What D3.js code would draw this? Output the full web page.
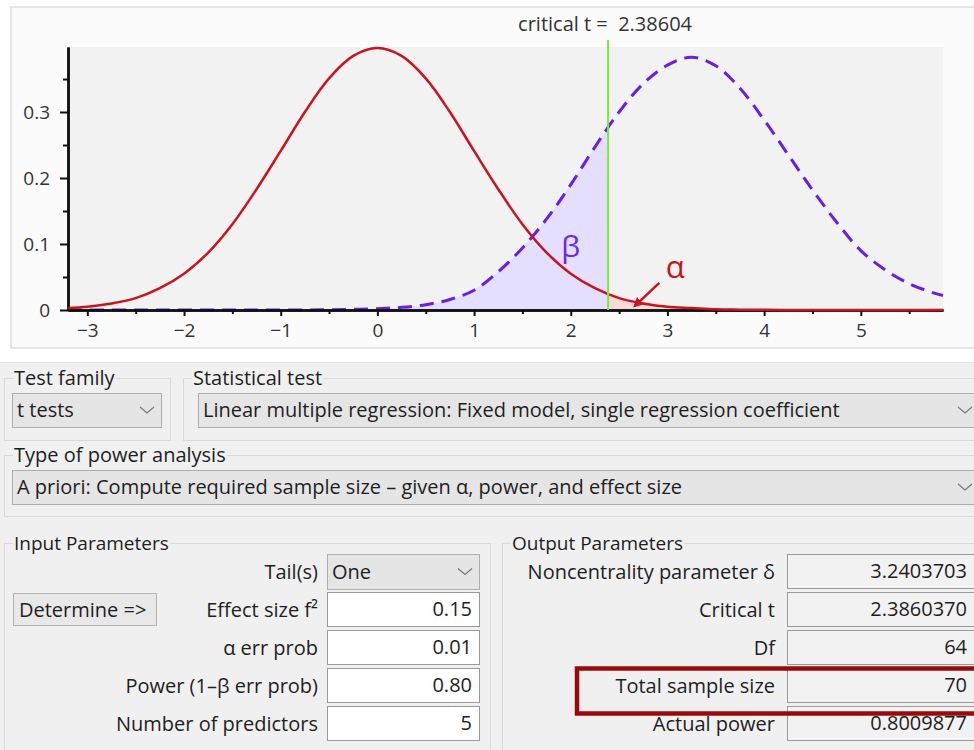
<!DOCTYPE html>
<html>
<head>
<meta charset="utf-8">
<script src="https://cdn.jsdelivr.net/npm/d3@7"></script>
<style>
  body { margin: 0; background: #fff; }
  text { font-family: "Open Sans", "Noto Sans", sans-serif; }
</style>
</head>
<body>
<script>
var tGrid = [-3.2, -3, -2.75, -2.5, -2.25, -2, -1.75, -1.5, -1.25, -1, -0.75, -0.5, -0.25,
    0, 0.25, 0.5, 0.75, 1, 1.25, 1.5, 1.75, 2, 2.25, 2.5, 2.75, 3, 3.25, 3.5, 3.75,
    4, 4.25, 4.5, 4.75, 5, 5.25, 5.5, 5.75, 5.85];

// H0: central t (red, solid)
var h0Density = [0.003, 0.005, 0.010, 0.018, 0.033, 0.055, 0.087, 0.130, 0.183, 0.241, 0.300, 0.351, 0.385,
    0.397, 0.385, 0.351, 0.300, 0.241, 0.183, 0.130, 0.087, 0.055, 0.033, 0.018, 0.010, 0.005, 0.003, 0.001, 0.0005,
    0.0002, 0.0001, 0, 0, 0, 0, 0, 0, 0];

// H1: noncentral t (blue, dashed)
var h1Density = [0, 0, 0, 0, 0, 0, 0, 0, 0, 0, 0, 0.0004, 0.001,
    0.002, 0.004, 0.008, 0.016, 0.030, 0.058, 0.094, 0.138, 0.190, 0.247, 0.300, 0.343, 0.371, 0.383, 0.370, 0.336,
    0.288, 0.235, 0.182, 0.133, 0.090, 0.061, 0.040, 0.026, 0.022];

var criticalT = 2.38604;
var xTicks = [-3, -2, -1, 0, 1, 2, 3, 4, 5];
var xMinorTicks = [-2.5, -1.5, -0.5, 0.5, 1.5, 2.5, 3.5, 4.5, 5.5];
var yTicks = [0, 0.1, 0.2, 0.3];
var yMinorTicks = [0.05, 0.15, 0.25, 0.35];

var testFamily = "t tests";
var statisticalTest = "Linear multiple regression: Fixed model, single regression coefficient";
var analysisType = "A priori: Compute required sample size \u2013 given \u03b1, power, and effect size";

var inputLabels = ["Tail(s)", "Effect size f\u00b2", "\u03b1 err prob", "Power (1\u2013\u03b2 err prob)", "Number of predictors"];
var inputValues = ["One", "0.15", "0.01", "0.80", "5"];
var outputLabels = ["Noncentrality parameter \u03b4", "Critical t", "Df", "Total sample size", "Actual power"];
var outputValues = ["3.2403703", "2.3860370", "64", "70", "0.8009877"];

var width = 974,
    height = 750;
var uiFont = "20px";
var ink = "#1e1e1e";

var svg = d3.select("body").append("svg")
    .attr("width", width)
    .attr("height", height);

// ---------- chart panel ----------
svg.append("rect").attr("x", 11).attr("y", 7).attr("width", 980).attr("height", 341)
    .attr("fill", "#fbfbfb").attr("stroke", "#cdcdcd");

var x = d3.scaleLinear().domain([-3.2, 5.85]).range([68, 943]);
var y = d3.scaleLinear().domain([0, 0.3985]).range([310, 47]);

svg.append("rect")
    .attr("x", x(-3.2)).attr("y", y(0.3985))
    .attr("width", x(5.85) - x(-3.2)).attr("height", y(0) - y(0.3985))
    .attr("fill", "#f2f2f2");

var pts0 = tGrid.map(function(t, i) { return [t, h0Density[i]]; });
var pts1 = tGrid.map(function(t, i) { return [t, h1Density[i]]; });

var line = d3.line()
    .x(function(d) { return x(d[0]); })
    .y(function(d) { return y(d[1]); })
    .curve(d3.curveCatmullRom);

var area = d3.area()
    .x(function(d) { return x(d[0]); })
    .y0(y(0))
    .y1(function(d) { return y(d[1]); })
    .curve(d3.curveCatmullRom);

var defs = svg.append("defs");
defs.append("clipPath").attr("id", "leftOfCrit")
  .append("rect").attr("x", x(-3.2)).attr("y", 0).attr("width", x(criticalT) - x(-3.2)).attr("height", y(0));
defs.append("clipPath").attr("id", "rightOfCrit")
  .append("rect").attr("x", x(criticalT)).attr("y", 0).attr("width", x(5.85) - x(criticalT)).attr("height", y(0));
defs.append("marker").attr("id", "arrowRed")
    .attr("viewBox", "0 0 10 10").attr("refX", 8).attr("refY", 5)
    .attr("markerWidth", 4).attr("markerHeight", 4).attr("orient", "auto")
  .append("path").attr("d", "M0,0L10,5L0,10z").attr("fill", "#c8141e");

// beta region (under H1, left of critical t) and alpha region
svg.append("path").datum(pts1).attr("d", area)
    .attr("clip-path", "url(#leftOfCrit)").attr("fill", "#e4deff");
svg.append("path").datum(pts0).attr("d", area)
    .attr("clip-path", "url(#rightOfCrit)").attr("fill", "#f6dada");

svg.append("path").datum(pts1).attr("d", line)
    .attr("fill", "none").attr("stroke", "#6420e6")
    .attr("stroke-width", 3).attr("stroke-dasharray", "14 8");

// axes
var yAxis = svg.append("g").attr("transform", "translate(" + x(-3.2) + ",0)")
    .call(d3.axisLeft(y).tickValues(yTicks).tickSize(8).tickSizeOuter(0).tickPadding(10)
        .tickFormat(function(d) { return d === 0 ? "0" : d3.format(".1f")(d); }));
var yAxisMinor = svg.append("g").attr("transform", "translate(" + x(-3.2) + ",0)")
    .call(d3.axisLeft(y).tickValues(yMinorTicks).tickSize(5).tickSizeOuter(0).tickFormat(""));
var xAxis = svg.append("g").attr("transform", "translate(0," + y(0) + ")")
    .call(d3.axisBottom(x).tickValues(xTicks).tickSize(6).tickSizeOuter(0).tickPadding(8));
var xAxisMinor = svg.append("g").attr("transform", "translate(0," + y(0) + ")")
    .call(d3.axisBottom(x).tickValues(xMinorTicks).tickSize(4).tickSizeOuter(0).tickFormat(""));

[yAxis, yAxisMinor, xAxis, xAxisMinor].forEach(function(g) {
    g.select(".domain").attr("stroke", "#111").attr("stroke-width", 2.5);
    g.selectAll(".tick line").attr("stroke", "#111").attr("stroke-width", 2);
    g.selectAll(".tick text").attr("fill", "#333").style("font-size", "19px")
        .style("font-family", "'Open Sans', 'Noto Sans', sans-serif");
});

svg.append("path").datum(pts0).attr("d", line)
    .attr("fill", "none").attr("stroke", "#c8141e").attr("stroke-width", 2.5);

// critical t
svg.append("line")
    .attr("x1", x(criticalT)).attr("x2", x(criticalT))
    .attr("y1", 40).attr("y2", y(0))
    .attr("stroke", "#7ee83a").attr("stroke-width", 2);
svg.append("text")
    .attr("x", x(criticalT) - 3).attr("y", 31)
    .attr("text-anchor", "middle").attr("fill", "#333").style("font-size", "20px")
    .style("white-space", "pre")
    .text("critical t =  " + d3.format(".5f")(criticalT));

svg.append("text").attr("x", x(2.0)).attr("y", y(0.08))
    .attr("text-anchor", "middle").attr("fill", "#6a28e6").style("font-size", "30px")
    .text("\u03b2");
svg.append("text").attr("x", x(3.08)).attr("y", y(0.048))
    .attr("text-anchor", "middle").attr("fill", "#c8141e").style("font-size", "31px")
    .text("\u03b1");
svg.append("line")
    .attr("x1", x(2.916)).attr("y1", y(0.041))
    .attr("x2", x(2.66)).attr("y2", y(0.006))
    .attr("stroke", "#c8141e").attr("stroke-width", 2.5)
    .attr("marker-end", "url(#arrowRed)");

// ---------- settings panel ----------
var ui = svg.append("g");
ui.append("rect").attr("x", 0).attr("y", 362).attr("width", width).attr("height", height - 362)
    .attr("fill", "#f0f0f0");
ui.append("line").attr("x1", 0).attr("x2", width).attr("y1", 362.5).attr("y2", 362.5).attr("stroke", "#e2e2e2");

function group(x0, y0, w, h, label, size) {
    ui.append("rect").attr("x", x0 + 0.5).attr("y", y0 + 0.5).attr("width", w).attr("height", h)
        .attr("fill", "none").attr("stroke", "#dadada");
    var t = ui.append("text").attr("x", x0 + 10).attr("y", y0 + 7)
        .attr("fill", ink).style("font-size", size).text(label);
    var bb = t.node().getBBox();
    ui.insert("rect", "text:last-of-type")
        .attr("x", bb.x - 1).attr("y", y0 - 2).attr("width", bb.width + 2).attr("height", 5)
        .attr("fill", "#f0f0f0");
    t.raise();
}

function chevron(cx, cy) {
    ui.append("path")
        .attr("d", "M" + (cx - 7) + "," + (cy - 3) + "L" + cx + "," + (cy + 3) + "L" + (cx + 7) + "," + (cy - 3))
        .attr("fill", "none").attr("stroke", "#777").attr("stroke-width", 1.2);
}

function combo(x0, y0, w, h, value) {
    ui.append("rect").attr("x", x0 + 0.5).attr("y", y0 + 0.5).attr("width", w).attr("height", h)
        .attr("fill", "#e5e5e5").attr("stroke", "#adadad");
    ui.append("text").attr("x", x0 + 5).attr("y", y0 + h / 2 + 7)
        .attr("fill", ink).style("font-size", uiFont).text(value);
    chevron(Math.min(x0 + w - 14, 965), y0 + h / 2);
}

function field(x0, y0, w, h, value, fill) {
    ui.append("rect").attr("x", x0 + 0.5).attr("y", y0 + 0.5).attr("width", w).attr("height", h)
        .attr("fill", fill).attr("stroke", "#9a9a9a");
    ui.append("text").attr("x", Math.min(x0 + w - 7, 967)).attr("y", y0 + h / 2 + 7)
        .attr("text-anchor", "end").attr("fill", ink).style("font-size", uiFont).text(value);
}

group(4, 378, 166, 62, "Test family", "20px");
group(183, 378, 800, 62, "Statistical test", "20px");
group(4, 455, 980, 61, "Type of power analysis", "20px");
group(4, 543, 486, 220, "Input Parameters", "19px");
group(502, 543, 480, 220, "Output Parameters", "19px");

combo(12, 393, 149, 34, testFamily);
combo(198, 393, 790, 34, statisticalTest);
combo(12, 470, 976, 34, analysisType);

// determine button
ui.append("rect").attr("x", 13.5).attr("y", 593.5).attr("width", 143).attr("height", 32)
    .attr("fill", "#e8e8e8").attr("stroke", "#b4b4b4");
ui.append("text").attr("x", 19).attr("y", 617).attr("fill", ink).style("font-size", uiFont)
    .text("Determine =>");

var rowY = d3.scaleLinear().domain([0, 1]).range([554, 592]);

inputLabels.forEach(function(lab, i) {
    var top = rowY(i);
    ui.append("text").attr("x", 318).attr("y", top + 25).attr("text-anchor", "end")
        .attr("fill", ink).style("font-size", uiFont).text(lab);
    if (i === 0) {
        combo(327, top, 152, 35, inputValues[i]);
    } else {
        field(327, top, 152, 34, inputValues[i], "#fff");
    }
});

outputLabels.forEach(function(lab, i) {
    var top = rowY(i);
    ui.append("text").attr("x", 775).attr("y", top + 25).attr("text-anchor", "end")
        .attr("fill", ink).style("font-size", uiFont).text(lab);
    field(787, top, 200, 34, outputValues[i], "#f2f2f2");
});

// highlight of the total sample size row
ui.append("rect").attr("x", 577).attr("y", 668.5).attr("width", 420).attr("height", 45)
    .attr("fill", "none").attr("stroke", "#9b0a0a").attr("stroke-width", 4.5);
</script>
</body>
</html>
